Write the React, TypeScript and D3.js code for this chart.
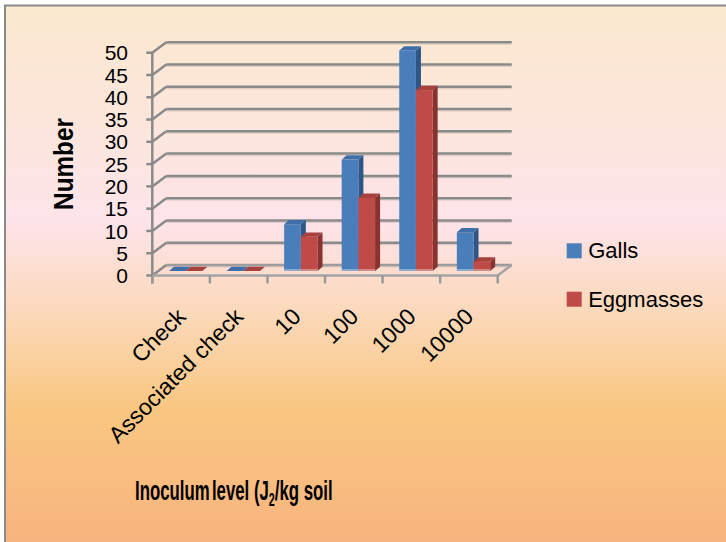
import * as d3 from "d3";

const categories = ["Check", "Associated check", "10", "100", "1000", "10000"];
const seriesNames = ["Galls", "Eggmasses"];
const galls = [0, 0, 10.5, 25, 49.5, 8.7];
const eggmasses = [0, 0, 7.7, 16.4, 40.6, 2.1];
const yTicks = [0, 5, 10, 15, 20, 25, 30, 35, 40, 45, 50];

const W = 726;
const H = 542;
// 3D offsets: wall depth and bar depth
const wall = { dx: 14, dy: -10.5 };
const shift = { dx: 0, dy: -4.5 };
const barDepth = { dx: 5, dy: -4.3 };

const colors = {
  Galls: { front: "#4A7EBB", top: "#3F6FA9", side: "#2D5686" },
  Eggmasses: { front: "#BE4B48", top: "#A8403D", side: "#89322F" },
};

const FONT = "'Liberation Sans', Arial, sans-serif";

export default function App() {
  const x0 = d3.scaleBand<string>().domain(categories).range([152.3, 497.7]).padding(0);
  const bw = x0.bandwidth();
  const x1 = d3.scaleBand<string>().domain(seriesNames).range([bw * 0.29, bw * 0.87]).padding(0);
  const y = d3.scaleLinear().domain([0, 50]).range([275.5, 52.7]);

  const left = x0.range()[0];
  const right = x0.range()[1];
  const base = y(0);

  const data = [galls, eggmasses];

  const bars: JSX.Element[] = [];
  categories.forEach((c, ci) => {
    seriesNames.forEach((s, si) => {
      const v = data[si][ci];
      const col = colors[s as keyof typeof colors];
      const xL = (x0(c) as number) + (x1(s) as number) + shift.dx;
      const xR = xL + x1.bandwidth();
      const yB = base + shift.dy;
      const yT = y(v) + shift.dy;
      const { dx, dy } = barDepth;
      const top = `M${xL},${yT}L${xL + dx},${yT + dy}L${xR + dx},${yT + dy}L${xR},${yT}Z`;
      const side = `M${xR},${yT}L${xR + dx},${yT + dy}L${xR + dx},${yB + dy}L${xR},${yB}Z`;
      bars.push(
        <g key={c + s}>
          {v > 0 && <path d={side} fill={col.side} />}
          {v > 0 && <rect x={xL} y={yT} width={xR - xL} height={yB - yT} fill={col.front} />}
          {v > 0 && <rect x={xL} y={yB - 2} width={xR - xL} height={2} fill="#ffffff" opacity={0.35} />}
          <path d={top} fill={col.top} />
        </g>
      );
    });
  });

  return (
    <svg width={W} height={H} style={{ position: "absolute", left: 0, top: 0 }}>
      <defs>
        <linearGradient id="bg" gradientUnits="userSpaceOnUse" x1="0" y1="5" x2="0" y2="542">
          <stop offset="0%" stopColor="#FBE9CF" />
          <stop offset="22%" stopColor="#FCE6DC" />
          <stop offset="40%" stopColor="#FDE4EA" />
          <stop offset="58%" stopColor="#FBD8B8" />
          <stop offset="75%" stopColor="#F9C781" />
          <stop offset="100%" stopColor="#F8B47F" />
        </linearGradient>
      </defs>
      <rect x={5} y={5.5} width={740} height={560} fill="url(#bg)" stroke="#8a8a8a" strokeWidth={2} />

      {/* back wall gridlines */}
      {yTicks.map((t) => (
        <g key={"g" + t}>
          <line x1={left + wall.dx} x2={right + wall.dx} y1={y(t) + wall.dy + 1.8} y2={y(t) + wall.dy + 1.8} stroke="#000" strokeOpacity={0.1} strokeWidth={1.5} />
          <line x1={left + wall.dx} x2={right + wall.dx} y1={y(t) + wall.dy} y2={y(t) + wall.dy} stroke={t === 0 ? "#9c9c9c" : "#8a8a8a"} strokeWidth={2.5} />
          <line x1={left} y1={y(t)} x2={left + wall.dx} y2={y(t) + wall.dy} stroke="#8a8a8a" strokeWidth={2.5} />
          <line x1={left - 6} x2={left} y1={y(t)} y2={y(t)} stroke="#8a8a8a" strokeWidth={2.5} />
        </g>
      ))}
      {/* left axis */}
      <line x1={left} x2={left} y1={y(50)} y2={base + 8} stroke="#8a8a8a" strokeWidth={2.5} />
      {/* floor */}
      <path
        d={`M${left},${base}L${right},${base}L${right + wall.dx},${base + wall.dy}`}
        fill="none"
        stroke="#a4a4a4"
        strokeWidth={2.5}
      />
      {categories.concat(["__end"]).map((c) => {
        const xx = c === "__end" ? right : (x0(c) as number);
        return <line key={"t" + c} x1={xx} x2={xx} y1={base} y2={base + 8} stroke="#9a9a9a" strokeWidth={2.5} />;
      })}

      {bars}

      {/* y tick labels */}
      {yTicks.map((t) => (
        <text key={"l" + t} x={128} y={y(t)} dy="0.36em" textAnchor="end" fontFamily={FONT} fontSize={21} fill="#000">
          {t}
        </text>
      ))}

      {/* category labels */}
      {categories.map((c) => {
        const cx = (x0(c) as number) + bw / 2 + 6;
        const cy = 318;
        return (
          <text key={"c" + c} transform={`translate(${cx},${cy}) rotate(-45)`} textAnchor="end" fontFamily={FONT} fontSize={23} fill="#000">
            {c}
          </text>
        );
      })}

      {/* axis titles */}
      <text transform="translate(73,164) rotate(-90) scale(0.9,1)" textAnchor="middle" fontFamily={FONT} fontWeight="bold" fontSize={27} fill="#000">
        Number
      </text>
      <g transform="translate(135,500) scale(0.6,1)">
        <text x={0} y={0} fontFamily={FONT} fontWeight="bold" fontSize={28} fill="#000">
          Inoculum<tspan dx={-4}> level (J</tspan>
          <tspan fontSize={18} dy={6}>2</tspan>
          <tspan dy={-6}>/kg soil</tspan>
        </text>
      </g>

      {/* legend */}
      {seriesNames.map((s, i) => (
        <g key={"lg" + s} transform={`translate(566.7,${243.3 + i * 48.4})`}>
          <rect width={15} height={15} fill={colors[s as keyof typeof colors].front} />
          <text x={21.5} y={15} fontFamily={FONT} fontSize={22} fill="#000">
            {s}
          </text>
        </g>
      ))}
    </svg>
  );
}
